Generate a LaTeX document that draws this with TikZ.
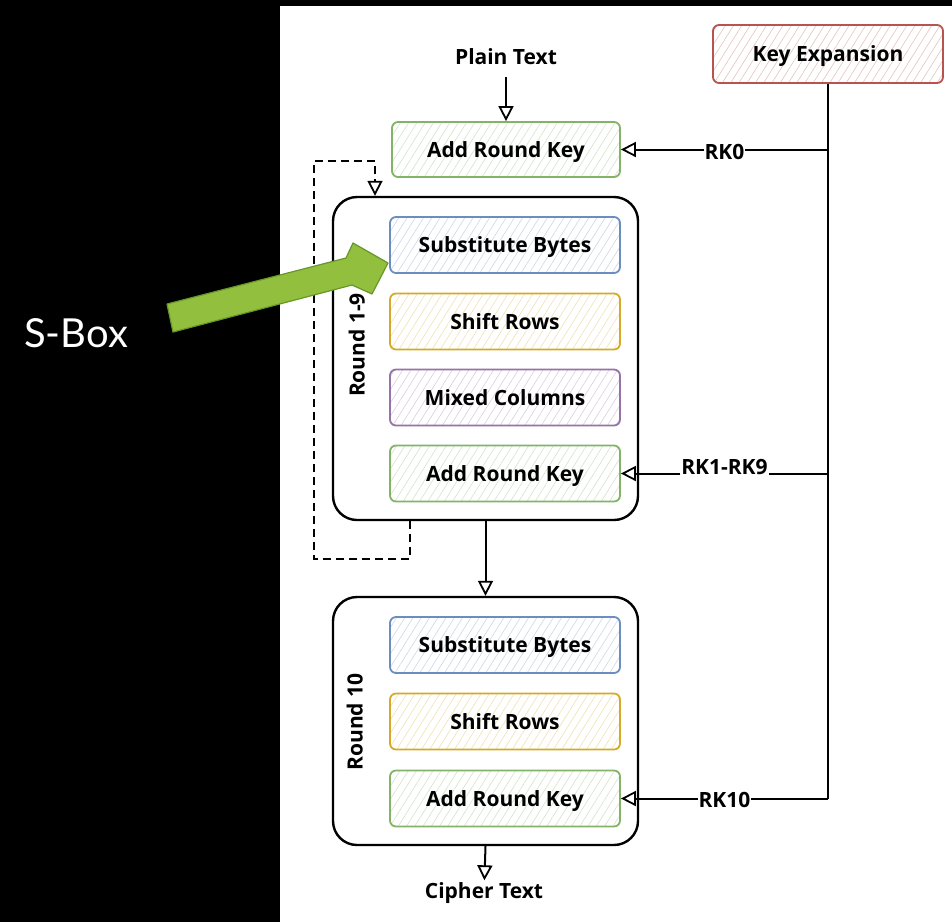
\documentclass[tikz,border=0pt]{standalone}
\usepackage{fontspec}
\setmainfont{Open Sans}
\newfontfamily\sboxfont{Lato}
\usetikzlibrary{arrows.meta,patterns.meta}

% stroke colours of the stages
\definecolor{grnS}{RGB}{130,179,102}
\definecolor{bluS}{RGB}{108,142,191}
\definecolor{ylwS}{RGB}{214,170,40}
\definecolor{purS}{RGB}{150,115,166}
\definecolor{redS}{RGB}{184,84,80}
\definecolor{arrowG}{RGB}{146,192,62}
\definecolor{arrowD}{RGB}{104,150,40}

\newcommand{\dfont}{\fontsize{21}{24}\selectfont\bfseries}

\tikzset{
  hatch/.style={pattern={Lines[angle=58,distance=7pt,line width=0.6pt]},
                pattern color=#1!35},
  stage/.style={draw=#1, hatch=#1, line width=1.8pt, rounded corners=6pt,
                minimum width=230pt, minimum height=56pt, inner sep=0pt,
                text height=15pt, text depth=0pt,
                font=\dfont, text=black},
  roundbox/.style={draw=black, fill=white, line width=2.4pt,
                   rounded corners=24pt, minimum width=305pt, inner sep=0pt},
  plainlbl/.style={font=\dfont, inner sep=2pt},
  keylbl/.style={font=\dfont, fill=white, inner sep=1pt},
  opentip/.style={-{Stealth[open,inset=0pt,length=15pt,width=15pt,line width=1.8pt]}},
  conn/.style={line width=2pt, opentip},
  wire/.style={line width=2pt},
  loopline/.style={line width=2pt, dash pattern=on 8pt off 5pt, opentip},
}

\begin{document}
\begin{tikzpicture}[x=1pt,y=-1pt]
\useasboundingbox (0,0) rectangle (952,922);
\fill[black] (0,0) rectangle (952,922);
\fill[white] (280,6) rectangle (952,922);

% key schedule and the initial key addition
\node[plainlbl] (plain) at (506,57) {Plain Text};
\node[stage=redS, minimum height=58pt] (ke) at (828,54) {Key Expansion};
\node[stage=grnS, minimum width=228pt, minimum height=55pt] (ark0) at (506,149.5) {Add Round Key};

% rounds 1 to 9
\node[roundbox, minimum height=323pt] (r1) at (485.5,358.5) {};
\node[rotate=90, font=\dfont, text height=15pt, text depth=0pt] (r1lbl) at (357,345) {Round 1-9};
\node[stage=bluS] (sb1)  at (505,245)   {Substitute Bytes};
\node[stage=ylwS] (sr1)  at (505,321.5) {Shift Rows};
\node[stage=purS] (mc1)  at (505,397.5) {Mixed Columns};
\node[stage=grnS] (ark1) at (505,473.5) {Add Round Key};

% final round
\node[roundbox, minimum height=248pt] (r10) at (485.5,721) {};
\node[rotate=90, font=\dfont, text height=15pt, text depth=0pt] (r10lbl) at (355,722) {Round 10};
\node[stage=bluS] (sb2)  at (505,645)   {Substitute Bytes};
\node[stage=ylwS] (sr2)  at (505,721.5) {Shift Rows};
\node[stage=grnS] (ark2) at (505,798.5) {Add Round Key};

\node[plainlbl] (cipher) at (484,893) {Cipher Text};

% data path
\draw[conn, shorten <=10pt] (plain) -- (ark0);
\draw[conn] (r1.south) -- (r10.north);
\draw[conn] (r10.south) -- (cipher);
\draw[loopline] ([xshift=-75.5pt]r1.south) -- ++(0,38) -- ++(-96,0)
   -- ++(0,-398) -- ++(61,0) -- ([xshift=-110.5pt]r1.north);

% round keys
\draw[wire] (ke.south) -- (ke.south |- ark2.east);
\draw[conn] (ke.south |- ark0.east) -- node[keylbl, yshift=-2pt] {RK0} (ark0.east);
\draw[conn] (ke.south |- ark1.east) -- node[keylbl, yshift=6pt] {RK1-RK9} (ark1.east);
\draw[conn] (ke.south |- ark2.east) -- node[keylbl, yshift=-1pt] {RK10} (ark2.east);

% annotation
\node[anchor=west, inner sep=0pt, text=white, font=\sboxfont\fontsize{40}{44}\selectfont] (sbox) at (24,333) {S-Box};
\draw[draw=arrowD, fill=arrowG, line width=1.2pt, line join=round]
  (167,304) -- (346,258) -- (353,243) -- (388,263) -- (372,294) -- (352,285) -- (173,332) -- cycle;
\end{tikzpicture}
\end{document}
